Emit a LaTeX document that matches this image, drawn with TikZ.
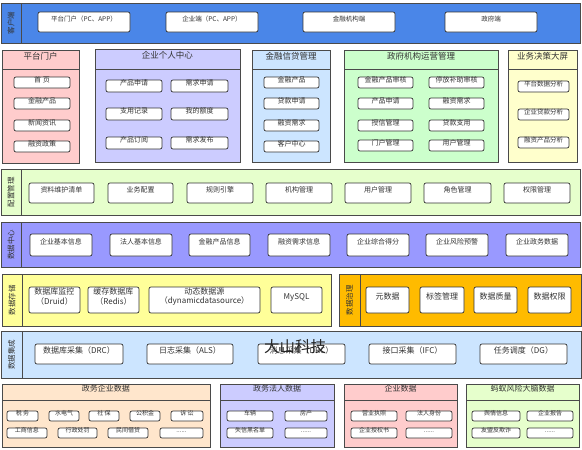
\documentclass[tikz,border=0pt]{standalone}
\usepackage{fontspec}
\setmainfont{Noto Sans CJK SC}
\usepackage{xcolor}
\usepackage{tikz}
\usetikzlibrary{fit,positioning}
\definecolor{clientx}{HTML}{4A86E8}
\definecolor{pinkx}{HTML}{FFCCCC}
\definecolor{lavx}{HTML}{CCCCFF}
\definecolor{skyx}{HTML}{CCE5FF}
\definecolor{mintx}{HTML}{CCFFCC}
\definecolor{creamx}{HTML}{FFFFCC}
\definecolor{limex}{HTML}{E6FFCC}
\definecolor{violetx}{HTML}{9999FF}
\definecolor{lemonx}{HTML}{FFFF99}
\definecolor{amberx}{HTML}{FFBB00}
\definecolor{peachx}{HTML}{FFE6CC}
\definecolor{edgex}{HTML}{4A4A4A}
\definecolor{inkx}{HTML}{333333}
\newcommand{\etcx}{......}
\tikzset{
  panel/.style={draw=edgex,line width=0.8pt,inner sep=0pt},
  head/.style={panel,text=inkx,font=\fontsize{8.5}{10}\selectfont},
  side/.style={rotate=90,text=inkx,inner sep=0pt,font=\fontsize{7.5}{9}\selectfont},
  item/.style={draw=inkx,line width=0.7pt,rounded corners=2pt,fill=white,inner sep=0pt,
    text=inkx,align=center,font=\fontsize{7}{8}\selectfont},
  small/.style={font=\fontsize{6}{7}\selectfont},
  big/.style={font=\fontsize{8}{9.5}\selectfont}
}

\begin{document}
\begin{tikzpicture}[x=1pt,y=-1pt]
\useasboundingbox[fill=white] (0,0) rectangle (582,450);

\node[panel,fill=clientx,fit={(1,3)(580,43)}] (client) {};
\node[panel,fill=clientx,fit={(1,3)(21,43)}] (client-s) {};
\node[side] at (client-s) {客户端};
\foreach \n/\a/\b/\t in {1/38/130/平台门户（PC、APP）,2/166/258/企业端（PC、APP）,3/303/395/金融机构端,4/445/537/政府端}
  \node[item,font=\fontsize{6.5}{8}\selectfont,fit={(\a,12)(\b,32)}] (client\n) {\t};

\node[panel,fill=pinkx,fit={(2,50)(79,163)}] (portal) {};
\node[head,fill=pinkx,fit={(2,50)(79,69)}] (portal-h) {平台门户};
\foreach \n/\y/\t in {1/77/首\ 页,2/98/金融产品,3/120/新闻资讯,4/141/融资政策}
  \node[item,fit={(14,\y)(70,\y+11)}] (portal\n) {\t};

\node[panel,fill=lavx,fit={(95,49)(240,162)}] (center) {};
\node[head,fill=lavx,fit={(95,49)(240,69)}] (center-h) {企业个人中心};
\foreach \n/\y/\s/\t in {1/80/产品申请/需求申请,2/108/支用记录/我的额度,3/137/产品订阅/需求发布}{
  \node[item,fit={(106,\y)(162,\y+12)}] (center\n a) {\s};
  \node[item,fit={(171,\y)(228,\y+12)}] (center\n b) {\t};
}

\node[panel,fill=skyx,fit={(252,50)(330,162)}] (credit) {};
\node[head,fill=skyx,fit={(252,50)(330,69)}] (credit-h) {金融信贷管理};
\foreach \n/\y/\t in {1/77/金融产品,2/98/贷款申请,3/120/融资需求,4/141/客户中心}
  \node[item,fit={(264,\y)(319,\y+11)}] (credit\n) {\t};

\node[panel,fill=mintx,fit={(344,50)(498,162)}] (gov) {};
\node[head,fill=mintx,fit={(344,50)(498,69)}] (gov-h) {政府机构运营管理};
\foreach \n/\y/\s/\t in {1/77/金融产品审核/停放补助审核,2/98/产品申请/融资需求,3/120/授信管理/贷款支用,4/140/门户管理/用户管理}{
  \node[item,fit={(358,\y)(413,\y+11)}] (gov\n a) {\s};
  \node[item,fit={(429,\y)(484,\y+11)}] (gov\n b) {\t};
}

\node[panel,fill=creamx,fit={(508,50)(577,162)}] (screen) {};
\node[head,fill=creamx,fit={(508,50)(577,69)}] (screen-h) {业务决策大屏};
\foreach \n/\y/\t in {1/81/平台数据分析,2/109/企业贷款分析,3/137/融资产品分析}
  \node[item,font=\fontsize{6.5}{8}\selectfont,fit={(518,\y)(569,\y+11)}] (screen\n) {\t};

\node[panel,fill=limex,fit={(1,169)(580,215)}] (cfg) {};
\node[panel,fill=limex,fit={(1,169)(21,215)}] (cfg-s) {};
\node[side] at (cfg-s) {配置管理};
\foreach \n/\a/\b/\t in {1/29/94/资料维护清单,2/108/173/业务配置,3/187/253/规则引擎,4/266/332/机构管理,5/345/411/用户管理,6/424/491/角色管理,7/504/570/权限管理}
  \node[item,fit={(\a,183)(\b,203)}] (cfg\n) {\t};

\node[panel,fill=violetx,fit={(1,222)(580,267)}] (dc) {};
\node[panel,fill=violetx,fit={(1,222)(21,267)}] (dc-s) {};
\node[side] at (dc-s) {数据中心};
\foreach \n/\a/\b/\t in {1/30/92/企业基本信息,2/110/172/法人基本信息,3/189/250/金融产品信息,4/268/330/融资需求信息,5/347/409/企业综合得分,6/426/488/企业风险预警,7/506/568/企业政务数据}
  \node[item,fit={(\a,234)(\b,256)}] (dc\n) {\t};

\node[panel,fill=lemonx,fit={(2,274)(331,326)}] (store) {};
\node[panel,fill=lemonx,fit={(2,274)(22,326)}] (store-s) {};
\node[side] at (store-s) {数据存储};
\foreach \n/\a/\b/\t in {1/29/80/数据库监控\\（Druid）,2/88/139/缓存数据库\\（Redis）,3/149/260/动态数据源\\（dynamicdatasource）,4/271/322/MySQL}
  \node[item,big,fit={(\a,287)(\b,313)}] (store\n) {\t};

\node[panel,fill=amberx,fit={(339,274)(581,326)}] (gov-data) {};
\node[panel,fill=amberx,fit={(339,274)(360,326)}] (gov-data-s) {};
\node[side] at (gov-data-s) {数据治理};
\foreach \n/\a/\b/\t in {1/366/409/元数据,2/420/464/标签管理,3/474/517/数据质量,4/528/571/数据权限}
  \node[item,big,fit={(\a,287)(\b,313)}] (govd\n) {\t};

\node[panel,fill=skyx,fit={(1,331)(581,378)}] (sync) {};
\node[panel,fill=skyx,fit={(1,331)(22,378)}] (sync-s) {};
\node[side] at (sync-s) {数据集成};
\foreach \n/\a/\b/\t in {1/35/123/数据库采集（DRC）,2/147/233/日志采集（ALS）,3/258/345/消息采集（DRC）,4/369/456/接口采集（IFC）,5/480/567/任务调度（DG）}
  \node[item,big,fit={(\a,344)(\b,364)}] (sync\n) {\t};

\node[panel,fill=peachx,fit={(2,384)(210,447)}] (src1) {};
\node[head,fill=peachx,font=\fontsize{8}{9.5}\selectfont,fit={(2,384)(210,400)}] (src1-h) {政务企业数据};
\foreach \n/\a/\b/\t in {1/7/38/税\ 务,2/49/79/水电气,3/89/119/社\ 保,4/130/160/公积金,5/171/203/诉\ 讼}
  \node[item,small,fit={(\a,411)(\b,421)}] (src1\n a) {\t};
\foreach \n/\a/\b/\t in {1/7/47/工商信息,2/58/97/行政处罚,3/108/148/民间借贷,4/160/203/\etcx}
  \node[item,small,fit={(\a,428)(\b,438)}] (src1\n b) {\t};

\node[panel,fill=lavx,fit={(220,384)(334,447)}] (src2) {};
\node[head,fill=lavx,font=\fontsize{8}{9.5}\selectfont,fit={(220,384)(334,400)}] (src2-h) {政务法人数据};
\node[panel,fill=pinkx,fit={(344,384)(457,447)}] (src3) {};
\node[head,fill=pinkx,font=\fontsize{8}{9.5}\selectfont,fit={(344,384)(457,400)}] (src3-h) {企业数据};
\node[panel,fill=limex,fit={(466,384)(579,447)}] (src4) {};
\node[head,fill=limex,font=\fontsize{8}{9.5}\selectfont,fit={(466,384)(579,400)}] (src4-h) {蚂蚁风险大脑数据};
\foreach \k/\a/\b/\c/\d/\s/\t/\u in {2/227/273/285/327/车辆/房产/失信黑名单,3/351/397/406/452/营业执照/法人身份/企业授权书,4/472/520/527/573/舆情信息/企业报告/友盟反欺诈}{
  \node[item,small,fit={(\a,411)(\b,421)}] (src\k-1) {\s};
  \node[item,small,fit={(\c,411)(\d,421)}] (src\k-2) {\t};
  \node[item,small,fit={(\a,428)(\b,438)}] (src\k-3) {\u};
  \node[item,small,fit={(\c,428)(\d,438)}] (src\k-4) {\etcx};
}

\node[font=\fontsize{15.5}{17}\selectfont,text=black!85] (mark) at (295,347) {大山科技};
\end{tikzpicture}
\end{document}
